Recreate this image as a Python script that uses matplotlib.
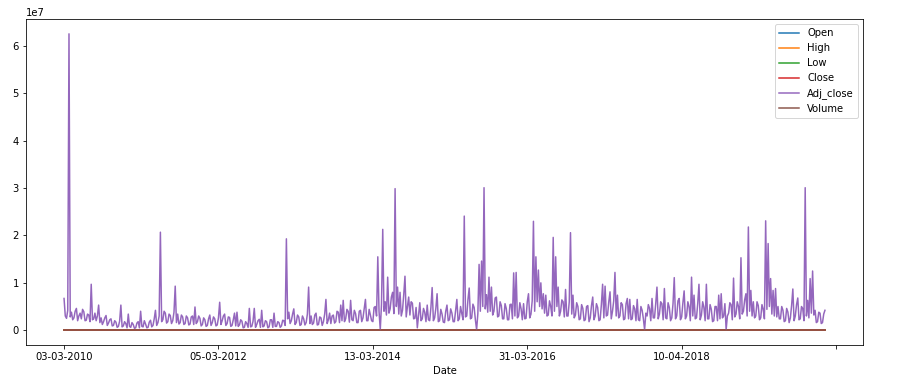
import matplotlib
matplotlib.use("Agg")
import matplotlib.pyplot as plt

# Trading-day sampling step of the series
step = 4

# Adj_close column (values in millions)
adj_close_m = [
    6.7, 3.0, 2.5, 4.2, 62.6, 2.8, 3.8, 2.2, 2.6, 4.0, 4.6, 2.0, 3.0, 3.6, 2.4, 4.4, 3.9, 2.0, 2.1, 3.4,
    3.2, 1.8, 9.7, 2.2, 2.4, 3.6, 2.0, 3.0, 5.3, 1.6, 2.6, 1.2, 1.8, 2.6, 3.1, 1.0, 1.5, 2.2, 2.4, 0.9,
    1.0, 2.0, 1.7, 0.6, 0.8, 1.9, 5.3, 0.7, 0.9, 1.8, 1.4, 0.5, 3.4, 0.8, 0.6, 1.6, 1.2, 0.4, 0.5, 1.5,
    1.8, 0.5, 4.0, 0.8, 0.7, 2.0, 1.3, 0.5, 0.6, 1.7, 2.1, 0.7, 1.0, 2.4, 4.2, 1.0, 1.6, 3.0, 20.7, 1.8,
    2.2, 4.0, 3.6, 1.5, 1.8, 3.4, 3.1, 1.4, 2.0, 3.8, 9.3, 1.6, 3.4, 1.3, 1.6, 3.2, 2.8, 1.2, 1.4, 3.0,
    2.6, 1.1, 1.3, 2.8, 3.0, 1.2, 4.9, 1.4, 1.8, 3.0, 2.5, 0.9, 1.2, 2.6, 2.2, 0.8, 1.0, 2.4, 3.2, 1.0,
    1.6, 2.8, 2.4, 0.9, 1.1, 2.6, 5.9, 1.2, 2.0, 3.0, 3.4, 1.0, 1.4, 2.8, 2.7, 0.8, 1.0, 2.2, 3.6, 0.9,
    3.8, 0.8, 1.1, 2.2, 1.9, 0.5, 0.6, 1.8, 1.4, 0.6, 4.6, 0.7, 0.8, 1.9, 4.6, 0.6, 1.2, 2.0, 2.3, 0.6,
    4.2, 0.7, 0.9, 2.0, 1.8, 0.5, 0.7, 2.2, 2.2, 0.6, 3.6, 0.8, 0.8, 1.8, 1.6, 0.6, 0.9, 2.1, 2.0, 1.0,
    19.3, 2.4, 3.8, 1.4, 2.0, 3.4, 4.5, 1.2, 1.6, 3.2, 2.8, 1.0, 1.2, 3.0, 2.4, 1.1, 1.6, 3.4, 9.1, 1.4,
    3.0, 1.2, 1.5, 3.2, 3.6, 1.1, 1.2, 2.8, 2.6, 1.0, 1.8, 3.4, 6.5, 1.4, 2.2, 3.6, 1.4, 3.0, 3.2, 1.5,
    1.8, 4.0, 3.8, 1.6, 5.3, 2.0, 6.3, 1.8, 2.4, 4.4, 4.0, 1.7, 6.3, 2.2, 2.0, 4.2, 3.5, 1.6, 1.6, 4.0,
    4.2, 1.8, 2.6, 4.6, 6.5, 2.0, 2.0, 4.4, 3.2, 2.0, 1.8, 4.8, 5.0, 3.0, 15.5, 4.0, 0.1, 5.5, 21.3, 4.0,
    6.0, 3.2, 11.2, 3.6, 4.5, 7.0, 8.0, 3.5, 29.9, 5.0, 9.1, 3.4, 8.0, 3.0, 4.2, 7.5, 11.4, 2.8, 5.0, 7.0,
    3.2, 6.0, 5.7, 2.4, 2.5, 4.8, 0.5, 3.2, 5.8, 2.0, 2.4, 4.6, 3.8, 1.8, 5.3, 2.2, 2.0, 4.8, 9.0, 2.0,
    2.6, 4.6, 7.7, 1.8, 2.0, 4.4, 3.4, 1.7, 1.6, 4.0, 5.3, 2.0, 2.2, 4.5, 3.6, 1.8, 1.8, 4.2, 6.5, 2.0,
    2.4, 5.0, 3.5, 2.2, 24.1, 2.8, 3.0, 6.5, 8.9, 2.4, 2.6, 5.5, 4.8, 2.2, 0.1, 3.5, 13.9, 4.0, 14.6, 5.0,
    30.1, 4.5, 7.5, 3.8, 11.2, 4.0, 9.1, 3.2, 4.0, 6.8, 7.0, 2.8, 3.0, 6.0, 5.2, 2.4, 2.4, 5.6, 4.6, 2.2,
    2.2, 5.4, 5.5, 2.4, 12.1, 3.0, 12.2, 2.6, 3.0, 5.8, 4.5, 2.2, 5.6, 2.4, 2.5, 6.0, 7.7, 2.6, 3.4, 6.2,
    23.0, 4.0, 15.5, 6.0, 12.7, 5.0, 10.0, 4.5, 7.7, 3.6, 7.4, 3.0, 3.2, 6.2, 5.0, 3.0, 19.6, 4.0, 15.5, 5.0,
    9.1, 3.0, 4.0, 6.4, 6.0, 2.8, 8.6, 3.0, 3.0, 6.0, 20.6, 3.4, 7.4, 2.6, 3.2, 5.8, 5.0, 2.2, 2.4, 5.4,
    4.6, 2.0, 2.2, 5.0, 5.2, 1.8, 2.6, 5.2, 7.0, 2.2, 3.0, 5.6, 4.8, 2.0, 2.2, 5.4, 9.7, 2.6, 9.3, 3.0,
    3.2, 6.0, 8.1, 2.4, 4.0, 6.2, 12.2, 3.0, 7.4, 2.6, 3.0, 5.8, 5.4, 2.2, 2.4, 5.6, 6.7, 2.4, 6.5, 2.2,
    2.4, 5.2, 4.5, 2.0, 6.5, 2.2, 2.0, 5.0, 4.2, 2.4, 0.1, 3.6, 3.0, 5.4, 4.6, 2.0, 6.7, 2.6, 2.6, 5.6,
    9.1, 2.4, 3.4, 6.0, 5.6, 2.2, 8.8, 2.6, 2.4, 5.8, 4.8, 2.0, 2.6, 5.6, 11.1, 2.4, 3.0, 6.2, 6.7, 2.2,
    2.8, 5.8, 8.3, 2.4, 3.0, 6.0, 5.0, 2.0, 11.2, 3.0, 7.4, 2.4, 2.6, 5.6, 9.7, 2.2, 3.2, 6.0, 4.8, 2.0,
    9.7, 2.4, 2.4, 5.4, 4.4, 1.8, 2.0, 5.0, 5.0, 2.0, 7.4, 2.4, 7.7, 2.6, 3.0, 5.6, 0.1, 3.0, 3.6, 5.8,
    5.4, 2.2, 11.0, 2.8, 3.4, 6.0, 5.0, 2.4, 15.3, 3.4, 4.0, 6.4, 7.7, 3.0, 21.8, 4.0, 8.4, 3.0, 6.0, 2.6,
    3.0, 6.0, 5.2, 2.2, 2.6, 5.4, 4.4, 2.4, 23.1, 4.4, 18.3, 5.0, 10.9, 3.4, 8.4, 3.0, 8.8, 2.8, 5.0, 2.4,
    2.4, 5.0, 4.2, 1.8, 2.0, 4.6, 3.8, 1.6, 2.6, 5.2, 8.7, 2.0, 3.0, 5.4, 6.8, 2.2, 2.4, 5.0, 4.6, 2.0,
    30.1, 3.0, 6.3, 2.6, 10.9, 3.6, 12.5, 3.2, 4.2, 1.6, 1.8, 3.8, 3.6, 1.4, 1.6, 3.4, 4.2,
]

# The other columns all read as ~0 at this scale (first and last day)
open_vals = [0.0, 0.0]
high_vals = [0.0, 0.0]
low_vals = [0.0, 0.0]
close_vals = [0.0, 0.0]
volume_vals = [0.0, 0.0]

# Tick labels (every 500 trading days)
tick_labels = ["03-03-2010", "05-03-2012", "13-03-2014", "31-03-2016", "10-04-2018", ""]
tick_every = 500

adj_x = [i * step for i in range(len(adj_close_m))]
adj_y = [v * 1e6 for v in adj_close_m]
last = adj_x[-1]
end_x = [0, last]

W, H, DPI = 899, 384, 72
fig = plt.figure(figsize=(W / DPI, H / DPI), dpi=DPI)
ax = fig.add_axes([26 / W, 39 / H, 837 / W, 326 / H])

ax.plot(end_x, open_vals, color="C0", label="Open")
ax.plot(end_x, high_vals, color="C1", label="High")
ax.plot(end_x, low_vals, color="C2", label="Low")
ax.plot(end_x, close_vals, color="C3", label="Close")
ax.plot(adj_x, adj_y, color="C4", label="Adj_close")
ax.plot(end_x, volume_vals, color="C5", label="Volume")

ax.set_xticks([i * tick_every for i in range(len(tick_labels))])
ax.set_xticklabels(tick_labels)
ax.set_xlabel("Date")
ax.legend(loc="upper right")

fig.savefig("out.png", dpi=DPI)
